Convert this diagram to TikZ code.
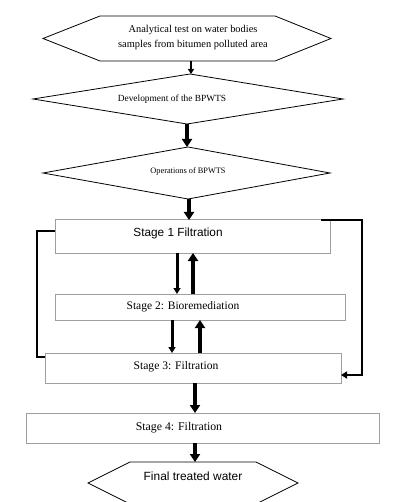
\documentclass[tikz,border=0pt]{standalone}
\usepackage{fontspec}
\setmainfont{Liberation Serif}
\newfontfamily\sansf{Liberation Sans}
\usetikzlibrary{arrows.meta,calc}
\begin{document}
\begin{tikzpicture}[x=1pt,y=-1pt,
  shapebox/.style={draw=none,inner sep=0pt,outer sep=0pt},
  outl/.style={draw=black,line width=0.8pt},
  stagebox/.style={draw=gray!75,line width=1pt,inner sep=0pt,outer sep=0pt},
  txt/.style={inner sep=0pt},
  arrsmall/.style={line width=2pt,-{Triangle[width=6pt,length=5pt]}},
  arrmid/.style={line width=3pt,-{Triangle[width=7pt,length=6pt]}},
  arrbig/.style={line width=4pt,-{Triangle[width=10pt,length=8pt]}},
  loopline/.style={line width=2pt},
  looparr/.style={line width=2pt,-{Triangle[width=7pt,length=6pt]}}
]
\useasboundingbox (0,0) rectangle (418,502);

% first hexagon
\node[shapebox,minimum width=288pt,minimum height=45pt] (h1) at (187,38.5) {};
\draw[outl] (h1.west) -- ($(h1.north west)+(57,0)$) -- ($(h1.north east)+(-56,0)$)
  -- (h1.east) -- ($(h1.south east)+(-56,0)$) -- ($(h1.south west)+(57,0)$) -- cycle;
\node[txt,align=center,font=\fontsize{10.4}{15}\selectfont] (h1t) at (193,38) {Analytical test on water bodies\\samples from bitumen polluted area};

% first diamond
\node[shapebox,minimum width=310pt,minimum height=50pt] (d1) at (188,99) {};
\draw[outl] (d1.west) -- ([xshift=2pt]d1.north) -- (d1.east) -- ([xshift=-1pt]d1.south) -- cycle;
\node[txt,font=\fontsize{9.4}{11}\selectfont] (d1t) at (172,99) {Development of the BPWTS};

% second diamond
\node[shapebox,minimum width=287pt,minimum height=52pt] (d2) at (186.5,173) {};
\draw[outl] (d2.west) -- ([xshift=1.5pt]d2.north) -- (d2.east) -- ([xshift=1.5pt]d2.south) -- cycle;
\node[txt,font=\fontsize{8.3}{10}\selectfont] (d2t) at (188,171) {Operations of BPWTS};

% stage boxes
\node[stagebox,minimum width=275pt,minimum height=33pt] (b1) at (192.5,236.5) {};
\node[txt,font=\sansf\fontsize{11.8}{14}\selectfont] (b1t) at (178,233) {Stage 1 Filtration};
\node[stagebox,minimum width=290pt,minimum height=26pt] (b2) at (200,307) {};
\node[txt,font=\fontsize{11.5}{14}\selectfont] (b2t) at (183,307) {Stage 2: Bioremediation};
\node[stagebox,minimum width=296pt,minimum height=30pt] (b3) at (193,368) {};
\node[txt,font=\fontsize{11.6}{14}\selectfont] (b3t) at (176,367) {Stage 3: Filtration};
\node[stagebox,minimum width=353pt,minimum height=30pt] (b4) at (202.5,428) {};
\node[txt,font=\fontsize{11.8}{14}\selectfont] (b4t) at (179,428) {Stage 4: Filtration};

% final hexagon
\node[shapebox,minimum width=210pt,minimum height=42pt] (h2) at (193,483) {};
\draw[outl] (h2.west) -- ($(h2.north west)+(42,0)$) -- ($(h2.north east)+(-42,0)$)
  -- (h2.east) -- ($(h2.south east)+(-42,0)$) -- ($(h2.south west)+(42,0)$) -- cycle;
\node[txt,font=\sansf\fontsize{11.9}{14}\selectfont] (h2t) at (193,476) {Final treated water};

% arrows
\draw[arrsmall] ([xshift=4pt]h1.south) -- ([xshift=4pt]h1.south |- d1.north);
\draw[arrbig] ([xshift=-1pt]d1.south) -- ([xshift=-1pt]d1.south |- d2.north);
\draw[arrbig] ([xshift=2.5pt]d2.south) -- ([xshift=2.5pt]d2.south |- b1.north);
\draw[arrmid] ([xshift=-15.5pt]b1.south) -- ([xshift=-15.5pt]b1.south |- b2.north);
\draw[arrbig] ([xshift=-7pt]b2.north) -- ([xshift=-7pt]b2.north |- b1.south);
\draw[arrmid] ([xshift=-28pt]b2.south) -- ([xshift=-28pt]b2.south |- b3.north);
\draw[arrbig] ([xshift=7pt]b3.north) -- ([xshift=7pt]b3.north |- b2.south);
\draw[arrbig] ([xshift=2pt]b3.south) -- ([xshift=2pt]b3.south |- b4.north);
\draw[arrbig] ([xshift=-7.5pt]b4.south) -- ([xshift=-7.5pt]b4.south |- h2.north);

% loops
\draw[loopline] ([yshift=5.5pt]b1.west) -- ++(-18,0) |- ([yshift=-4pt]b3.north west);
\draw[looparr] ([xshift=-9pt]b1.north east) -- ++(41,0) |- ([yshift=8pt]b3.south east);
\end{tikzpicture}
\end{document}
